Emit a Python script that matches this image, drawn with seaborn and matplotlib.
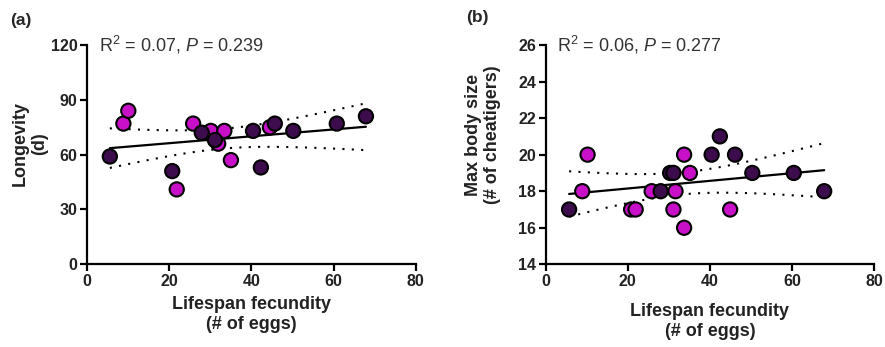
import numpy as np
import pandas as pd
import matplotlib
matplotlib.use('Agg')
import matplotlib.pyplot as plt
import seaborn as sns

# Datos
a_dark_x = [5.5, 20.7, 27.9, 31.1, 40.4, 42.3, 45.7, 50.2, 60.8, 67.9]
a_dark_y = [59, 51, 72, 68, 73, 53, 77, 73, 77, 81]
a_mag_x = [8.8, 10.0, 21.8, 25.8, 30.1, 31.9, 33.4, 35.0, 44.5]
a_mag_y = [77, 84, 41, 77, 73, 66, 73, 57, 75]

b_dark_x = [5.7, 28.0, 30.3, 31.1, 40.4, 42.4, 46.1, 50.3, 60.4, 67.8]
b_dark_y = [17, 18, 19, 19, 20, 21, 20, 19, 19, 18]
b_mag_x = [8.9, 10.2, 20.8, 21.9, 25.8, 31.1, 31.6, 33.7, 33.7, 35.1, 44.9]
b_mag_y = [18, 20, 17, 17, 18, 17, 18, 20, 16, 19, 17]

a_stats = 'R$^2$ = 0.07, $\\it{P}$ = 0.239'
b_stats = 'R$^2$ = 0.06, $\\it{P}$ = 0.277'

a_yticks = [0, 30, 60, 90, 120]
b_yticks = [14, 16, 18, 20, 22, 24, 26]
xticks = [0, 20, 40, 60, 80]

DARK = '#3c0c4c'
MAG = '#c810c8'
T975 = 2.093  # t critico, gl = 19

sns.set_style('white')
plt.rcParams['font.family'] = ['Liberation Sans', 'DejaVu Sans']
plt.rcParams['mathtext.fontset'] = 'custom'
plt.rcParams['mathtext.rm'] = 'Liberation Sans'
plt.rcParams['mathtext.it'] = 'Liberation Sans:italic'

fig = plt.figure(figsize=(8.85, 3.47), dpi=100)
ax_a = fig.add_axes([0.0986, 0.2383, 0.371, 0.632])
ax_b = fig.add_axes([0.6166, 0.2383, 0.3713, 0.632])


def panel(ax, dx, dy, mx, my, yticks, stats, ylabel, label_x, label_y, xlabel_pad):
    df = pd.DataFrame({
        'x': mx + dx,
        'y': my + dy,
        'grupo': ['m'] * len(mx) + ['d'] * len(dx),
    })
    # linea de regresion
    sns.regplot(data=df, x='x', y='y', ax=ax, scatter=False, ci=None,
                truncate=True, color='black', line_kws={'lw': 1.6, 'zorder': 2})
    # banda de confianza del 95 % (punteada)
    x = df['x'].values
    y = df['y'].values
    b1, b0 = np.polyfit(x, y, 1)
    n = len(x)
    res = y - (b0 + b1 * x)
    s = np.sqrt(np.sum(res ** 2) / (n - 2))
    xs = np.linspace(x.min(), x.max(), 100)
    se = s * np.sqrt(1 / n + (xs - x.mean()) ** 2 / np.sum((x - x.mean()) ** 2))
    yfit = b0 + b1 * xs
    for sign in (1, -1):
        ax.plot(xs, yfit + sign * T975 * se, color='black', lw=1.5,
                linestyle=(0, (1, 3.5)), zorder=2)
    sns.scatterplot(data=df, x='x', y='y', hue='grupo',
                    palette={'m': MAG, 'd': DARK}, s=105, edgecolor='black',
                    linewidth=1.5, ax=ax, legend=False, zorder=3)

    ax.set_xlim(0, 80)
    ax.set_ylim(yticks[0], yticks[-1])
    ax.set_xticks(xticks)
    ax.set_yticks(yticks)
    for side in ['top', 'right']:
        ax.spines[side].set_visible(False)
    for side in ['left', 'bottom']:
        ax.spines[side].set_linewidth(1.6)
        ax.spines[side].set_color('black')
    ax.tick_params(axis='both', direction='out', length=5, width=1.6,
                   labelsize=11.5, pad=2, colors='black', left=True, bottom=True)
    for lab in ax.get_xticklabels() + ax.get_yticklabels():
        lab.set_fontweight('bold')
        lab.set_color('#222222')
    ax.set_xlabel('Lifespan fecundity\n(# of eggs)', fontsize=13,
                  fontweight='bold', color='#222222', labelpad=xlabel_pad)
    ax.set_ylabel(ylabel, fontsize=13, fontweight='bold', color='#222222')
    ax.yaxis.set_label_coords(label_x, label_y)
    ax.text(0.035, 1.0, stats, transform=ax.transAxes, fontsize=13,
            color='#333333', va='center', ha='left')


panel(ax_a, a_dark_x, a_dark_y, a_mag_x, a_mag_y, a_yticks, a_stats,
      'Longevity\n(d)', -0.12, 0.55, 5)
panel(ax_b, b_dark_x, b_dark_y, b_mag_x, b_mag_y, b_yticks, b_stats,
      'Max body size\n(# of cheatigers)', -0.135, 0.59, 10)

fig.text(0.012, 0.94, '(a)', fontsize=12.5, fontweight='bold', va='center')
fig.text(0.527, 0.95, '(b)', fontsize=12.5, fontweight='bold', va='center')

fig.savefig('out.png', dpi=100)
